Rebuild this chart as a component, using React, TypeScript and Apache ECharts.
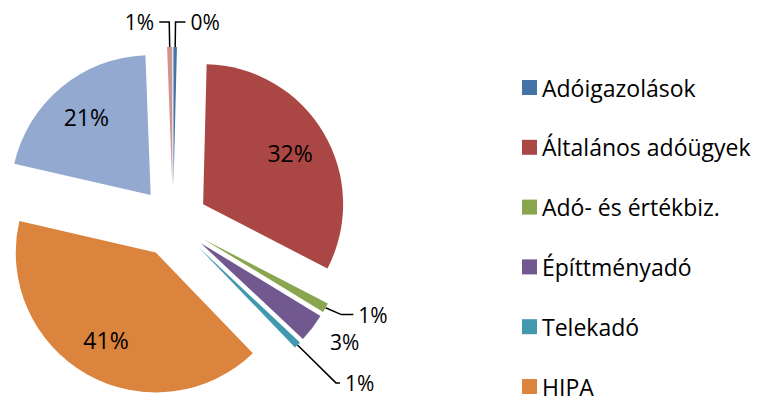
import React, { useEffect, useRef } from "react";
import * as echarts from "echarts";

const categories = [
  "Adóigazolások",
  "Általános adóügyek",
  "Adó- és értékbiz.",
  "Építtményadó",
  "Telekadó",
  "HIPA",
  "Gépjárműadó",
  "Egyéb",
];
const values = [0.4, 32.2, 1.1, 3.3, 0.8, 40.8, 20.8, 0.6];
const colors = ["#4572A7", "#AA4643", "#89A54E", "#71588F", "#4198AF", "#DB843D", "#93A9CF", "#D19392"];
const legendNames = categories.slice(0, 6);
const insideLabelFlags = [false, true, false, false, false, true, true, false];
const leaderLen1 = [25, 0, 14, 8, 54, 0, 0, 25];
const leaderLen2 = [10, 0, 12, 0, 4, 0, 0, 10];
const leaderShown = [true, false, true, false, true, false, false, true];

const FONT = "'Open Sans', 'Noto Sans', sans-serif";

export default function App() {
  const ref = useRef<HTMLDivElement>(null);
  useEffect(() => {
    if (!ref.current) return;
    const chart = echarts.init(ref.current, null, { renderer: "svg" });
    const fmt = (p: any) => Math.round(p.percent) + "%";
    const center = [173, 222];
    const offset = 35;
    const mainData = categories.map((name, i) => ({
      name,
      value: values[i],
      selected: true,
      itemStyle: { color: colors[i] },
      label: { show: !insideLabelFlags[i] },
      labelLine: {
        show: leaderShown[i],
        length: leaderLen1[i],
        length2: leaderLen2[i],
      },
    }));
    const overlayData = categories.map((name, i) => ({
      name,
      value: values[i],
      selected: true,
      itemStyle: { color: "rgba(0,0,0,0)" },
      label: { show: insideLabelFlags[i] },
    }));
    chart.setOption({
      animation: false,
      legend: {
        data: legendNames,
        orient: "vertical",
        left: 517,
        top: 71,
        height: 600,
        itemWidth: 15,
        itemHeight: 15,
        itemGap: 36.8,
        icon: "rect",
        selectedMode: false,
        textStyle: { fontSize: 23, lineHeight: 20, color: "#000", fontFamily: FONT, padding: [0, 0, 0, 0] },
      },
      series: [
        {
          type: "pie",
          center,
          radius: [0, 140],
          startAngle: 90,
          clockwise: true,
          selectedMode: "multiple",
          selectedOffset: offset,
          emphasis: { disabled: true },
          data: mainData,
          label: {
            position: "outside",
            formatter: fmt,
            fontSize: 21,
            lineHeight: 20,
            color: "#000",
            fontFamily: FONT,
          },
          labelLine: { lineStyle: { color: "#000", width: 1.5 } },
        },
        {
          type: "pie",
          center,
          radius: [56, 140],
          startAngle: 90,
          clockwise: true,
          silent: true,
          selectedMode: "multiple",
          selectedOffset: offset,
          emphasis: { disabled: true },
          data: overlayData,
          label: {
            position: "inside",
            formatter: fmt,
            fontSize: 23,
            color: "#000",
            fontFamily: FONT,
          },
          labelLine: { show: false },
        },
      ],
    });
    return () => chart.dispose();
  }, []);
  return (
    <div
      ref={ref}
      style={{ position: "absolute", left: 0, top: 0, width: 760, height: 401 }}
    />
  );
}
